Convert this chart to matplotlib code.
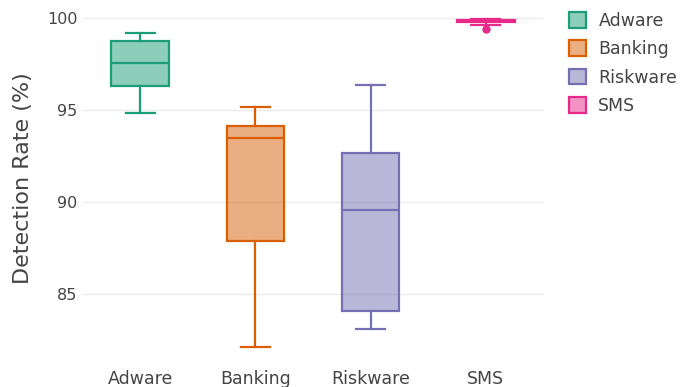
import matplotlib
matplotlib.use("Agg")
import matplotlib.pyplot as plt
from matplotlib.patches import Patch
from matplotlib.colors import to_rgba

categories = ["Adware", "Banking", "Riskware", "SMS"]
whislo = [94.84, 82.17, 83.10, 99.65]
q1 = [96.30, 87.90, 84.10, 99.78]
med = [97.55, 93.48, 89.60, 99.84]
q3 = [98.75, 94.13, 92.66, 99.92]
whishi = [99.18, 95.20, 96.36, 99.95]
fliers = [[], [], [], [99.40]]
colors = ["#1b9e77", "#d95f02", "#7570b3", "#e7298a"]
yticks = [85, 90, 95, 100]

fig = plt.figure(figsize=(6.83, 3.87), dpi=100)
ax = fig.add_axes([0.1208, 0.0775, 0.675, 0.9225])

stats = []
for i, c in enumerate(categories):
    stats.append(dict(label=c, whislo=whislo[i], q1=q1[i], med=med[i],
                      q3=q3[i], whishi=whishi[i], fliers=fliers[i]))

for i, s in enumerate(stats):
    col = colors[i]
    ax.bxp([s], positions=[i], widths=0.5, capwidths=0.25, patch_artist=True,
           showfliers=True,
           boxprops=dict(facecolor=to_rgba(col, 0.5), edgecolor=col, linewidth=1.6),
           medianprops=dict(color=col, linewidth=1.6),
           whiskerprops=dict(color=col, linewidth=1.6),
           capprops=dict(color=col, linewidth=1.6),
           flierprops=dict(marker="o", markerfacecolor=col, markeredgecolor=col,
                           markersize=5))

ax.set_xlim(-0.5, 3.5)
ax.set_ylim(81.6, 101.0)
ax.set_xticks(range(len(categories)))
ax.set_xticklabels(categories)
ax.set_yticks(yticks)
ax.set_yticklabels([str(t) for t in yticks])
ax.tick_params(axis="both", length=0, colors="#444444")
ax.tick_params(axis="x", pad=9, labelsize=12.5)
ax.tick_params(axis="y", pad=3.5, labelsize=11.5)
ax.grid(axis="y", color="#ebebeb", linewidth=1)
ax.set_axisbelow(True)
for sp in ax.spines.values():
    sp.set_visible(False)
ax.set_ylabel("Detection Rate (%)", fontsize=16, color="#444444", labelpad=10)

handles = [Patch(facecolor=to_rgba(c, 0.5), edgecolor=c, linewidth=1.6, label=l)
           for c, l in zip(colors, categories)]
fig.legend(handles=handles, loc="upper left", bbox_to_anchor=(0.81, 1.01),
           frameon=False, fontsize=12.5, labelcolor="#444444",
           handlelength=1.0, handleheight=1.0, labelspacing=0.6, handletextpad=0.7)

fig.savefig("out.png", dpi=100)
